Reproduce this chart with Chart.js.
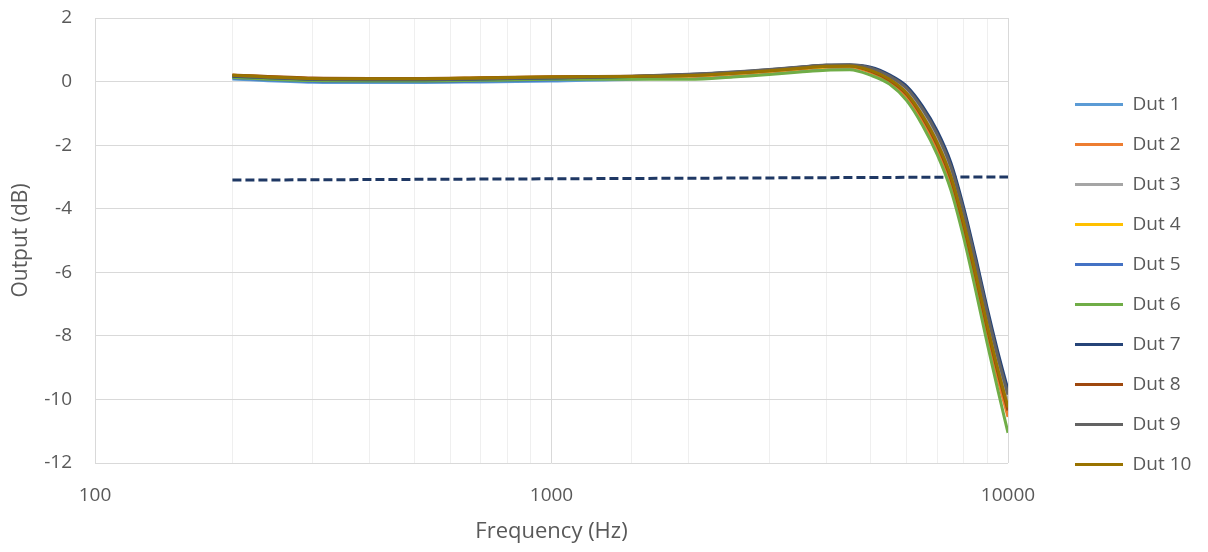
<!DOCTYPE html>
<html>
<head>
<meta charset="utf-8">
<script src="https://cdn.jsdelivr.net/npm/chart.js@4/dist/chart.umd.min.js"></script>
<style>
  html, body { margin: 0; padding: 0; background: #fff; }
  #wrap { width: 1208px; height: 552px; }
</style>
</head>
<body>
<div id="wrap"><canvas id="myChart"></canvas></div>
<script>
// frequency points (Hz) shared by all DUT curves
const freqHz = [200, 300, 400, 500, 700, 1000, 1500, 2000, 2500, 3000, 3500, 4000,
  4500, 5000, 5500, 6000, 6500, 7000, 7500, 8000, 8500, 9000, 9500, 10000];

// output level (dB) per DUT
const dut1 = [0.08, -0.02, -0.03, -0.03, -0.01, 0.02, 0.07, 0.14, 0.21, 0.29, 0.37, 0.43,
  0.44, 0.33, 0.08, -0.35, -1.05, -1.9, -2.95, -4.4, -6.0, -7.6, -9.0, -10.2];
const dut2 = [0.18, 0.08, 0.07, 0.07, 0.09, 0.12, 0.14, 0.16, 0.23, 0.31, 0.39, 0.45,
  0.46, 0.29, -0.01, -0.49, -1.24, -2.14, -3.22, -4.7, -6.32, -7.94, -9.35, -10.55];
const dut3 = [0.15, 0.05, 0.04, 0.04, 0.06, 0.09, 0.13, 0.18, 0.25, 0.33, 0.41, 0.47,
  0.48, 0.37, 0.11, -0.31, -0.99, -1.83, -2.87, -4.31, -5.91, -7.5, -8.9, -10.1];
const dut4 = [0.2, 0.1, 0.09, 0.09, 0.11, 0.14, 0.16, 0.18, 0.25, 0.33, 0.41, 0.47,
  0.48, 0.34, 0.06, -0.39, -1.1, -1.97, -3.03, -4.49, -6.09, -7.7, -9.1, -10.3];
const dut5 = [0.11, 0.01, 0.0, 0.0, 0.02, 0.05, 0.13, 0.21, 0.28, 0.36, 0.44, 0.5,
  0.51, 0.43, 0.18, -0.19, -0.83, -1.63, -2.64, -4.06, -5.63, -7.22, -8.6, -9.8];
const dut6 = [0.13, 0.03, 0.02, 0.02, 0.04, 0.07, 0.07, 0.07, 0.14, 0.22, 0.3, 0.36,
  0.37, 0.2, -0.08, -0.6, -1.38, -2.3, -3.42, -4.92, -6.58, -8.22, -9.7, -11.05];
const dut7 = [0.17, 0.07, 0.06, 0.06, 0.08, 0.11, 0.16, 0.22, 0.29, 0.37, 0.45, 0.51,
  0.52, 0.45, 0.21, -0.15, -0.78, -1.56, -2.56, -3.97, -5.54, -7.12, -8.5, -9.7];
const dut8 = [0.21, 0.11, 0.1, 0.1, 0.12, 0.15, 0.17, 0.19, 0.26, 0.34, 0.42, 0.48,
  0.49, 0.33, 0.04, -0.41, -1.13, -2.0, -3.07, -4.53, -6.14, -7.74, -9.15, -10.35];
const dut9 = [0.18, 0.08, 0.07, 0.07, 0.09, 0.12, 0.17, 0.23, 0.3, 0.38, 0.46, 0.52,
  0.53, 0.43, 0.17, -0.21, -0.86, -1.66, -2.68, -4.1, -5.68, -7.26, -8.65, -9.85];
const dut10 = [0.2, 0.1, 0.09, 0.09, 0.11, 0.14, 0.16, 0.19, 0.26, 0.34, 0.42, 0.48,
  0.49, 0.35, 0.07, -0.37, -1.08, -1.93, -2.99, -4.44, -6.05, -7.65, -9.05, -10.25];

// -3 dB reference line
const refFreq = [200, 10000];
const refLevel = [-3.1, -3.0];

const dutNames = ['Dut 1', 'Dut 2', 'Dut 3', 'Dut 4', 'Dut 5', 'Dut 6', 'Dut 7', 'Dut 8', 'Dut 9', 'Dut 10'];
const dutValues = [dut1, dut2, dut3, dut4, dut5, dut6, dut7, dut8, dut9, dut10];
const dutColors = ['#5B9BD5', '#ED7D31', '#A5A5A5', '#FFC000', '#4472C4',
  '#70AD47', '#264478', '#9E480E', '#636363', '#997300'];

const xTickLabels = [100, 1000, 10000];
const yTicks = [-12, -10, -8, -6, -4, -2, 0, 2];

const textColor = '#595959';
const fontFamily = '"Open Sans", sans-serif';

function toPoints(xs, ys) {
  return xs.map((x, i) => ({ x: x, y: ys[i] }));
}

const datasets = dutNames.map((name, i) => ({
  label: name,
  data: toPoints(freqHz, dutValues[i]),
  borderColor: dutColors[i],
  backgroundColor: dutColors[i],
  borderWidth: 3,
  pointRadius: 0,
  cubicInterpolationMode: 'monotone',
  order: dutNames.length - i,   // later DUTs drawn on top, like Excel
}));

datasets.push({
  label: '',
  data: toPoints(refFreq, refLevel),
  borderColor: '#1F3864',
  backgroundColor: '#1F3864',
  borderWidth: 3,
  borderDash: [9, 4],
  pointRadius: 0,
  order: 20,
});

// legend sits right after the plot area, push it over to where Excel had it
const legendShift = {
  id: 'legendShift',
  afterLayout(chart) {
    chart.legend.left += 46;
    chart.legend.right += 46;
  },
};

const config = {
  type: 'line',
  data: { datasets: datasets },
  plugins: [legendShift],
  options: {
    responsive: true,
    maintainAspectRatio: false,
    animation: false,
    layout: { padding: { top: 17, right: 6.5, bottom: 0, left: 0 } },
    plugins: {
      tooltip: { enabled: false },
      legend: {
        position: 'right',
        labels: {
          boxWidth: 48,
          boxHeight: 3,
          padding: 21,
          color: textColor,
          font: { family: fontFamily, size: 19 },
          filter: (item) => item.text !== '',
          sort: (a, b) => a.datasetIndex - b.datasetIndex,
          generateLabels: (chart) => {
            const items = Chart.defaults.plugins.legend.labels.generateLabels(chart);
            items.forEach((it) => { it.lineWidth = 0; it.lineDash = []; });
            return items;
          },
        },
      },
    },
    scales: {
      x: {
        type: 'logarithmic',
        min: 100,
        max: 10000,
        border: { display: false },
        grid: {
          drawTicks: false,
          lineWidth: 1,
          color: (ctx) => (ctx.tick && xTickLabels.includes(ctx.tick.value)) ? '#D9D9D9' : '#EFEFEF',
        },
        ticks: {
          autoSkip: false,
          maxRotation: 0,
          padding: 21,
          color: textColor,
          font: { family: fontFamily, size: 19 },
          callback: (value) => xTickLabels.includes(value) ? String(value) : '',
        },
        title: {
          display: true,
          text: 'Frequency (Hz)',
          color: textColor,
          font: { family: fontFamily, size: 22 },
          padding: { top: 0, bottom: 7 },
        },
        afterFit: (scale) => {
          scale.height = 89;
          scale.paddingRight = 200;
        },
      },
      y: {
        min: -12,
        max: 2,
        border: { display: false },
        grid: { drawTicks: false, color: '#D9D9D9', lineWidth: 1 },
        afterBuildTicks: (scale) => { scale.ticks = yTicks.map((v) => ({ value: v })); },
        ticks: {
          padding: 23,
          color: textColor,
          font: { family: fontFamily, size: 19 },
        },
        title: {
          display: true,
          text: 'Output (dB)',
          color: textColor,
          font: { family: fontFamily, size: 21 },
          padding: { top: 8, bottom: 0 },
        },
        afterFit: (scale) => {
          scale.width = 95;
          scale.paddingTop = 18;
        },
      },
    },
  },
};

const myChart = new Chart('myChart', config);
</script>
</body>
</html>
